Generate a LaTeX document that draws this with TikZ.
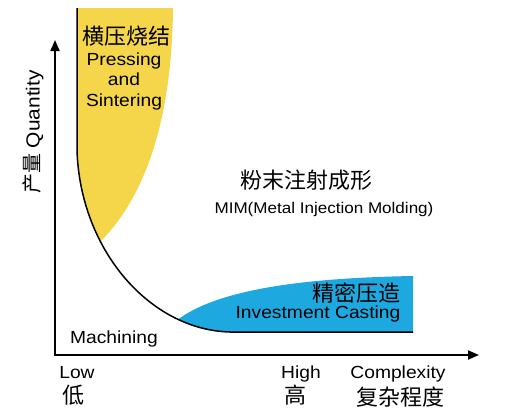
\documentclass[tikz,border=0pt]{standalone}
\usepackage{fontspec}
\setmainfont{Liberation Sans}[FakeStretch=1.1]
\newfontfamily\cjk{Noto Sans CJK SC}
\usepackage{tikz}
\usetikzlibrary{
	positioning,
	arrows.meta
}
\definecolor{pressyellow}{RGB}{245,214,74}
\definecolor{castblue}{RGB}{30,168,224}

\begin{document}
\begin{tikzpicture}[x=1pt,y=-1pt,
		lbl/.style={font=\fontsize{17.5}{20}\selectfont,inner sep=0pt,text height=12.5pt,text depth=3.5pt},
		zh/.style={font=\cjk\fontsize{22}{24}\selectfont,inner sep=0pt},
		axis/.style={line width=2pt,{Triangle[length=11pt,width=9pt]}-{Triangle[length=11pt,width=9pt]}},
		curve/.style={line width=1.5pt},
		node distance=20.5pt]
		\useasboundingbox (0,0) rectangle (514,418);

		\coordinate (o)     at (55,355);
		\coordinate (ytip)  at (55,40);
		\coordinate (xtip)  at (479,355);
		\coordinate (ctop)  at (77,8);
		\coordinate (cbend) at (77,150);
		\coordinate (cflat) at (230,332);
		\coordinate (cend)  at (413,332);

		% regions, kept right of the curve
		\begin{scope}
			\clip (ctop) -- (cbend) .. controls (80,250) and (150,330) .. (cflat) -- (514,332) -- (514,0) -- (77,0) -- cycle;
			\fill[pressyellow] (60,8) -- (173,8) .. controls (172,110) and (150,190) .. (102,240) -- (72,271) -- (60,271) -- cycle;
			\fill[castblue] (cend) -- (413,276) .. controls (300,278) and (220,290) .. (180,318) -- (150,339) -- (413,339) -- cycle;
		\end{scope}

		\draw[curve] (ctop) -- (cbend) .. controls (80,250) and (150,330) .. (cflat) -- (cend);
		\draw[axis] (ytip) -- (o) -- (xtip);

		\draw
			node[zh]                      (press-zh) at (126,36)  {横压烧结}
			node[lbl]                     (press)    at (124,60.5) {Pressing}
			node[lbl,below of=press]      (and)      {and}
			node[lbl,below of=and]        (sinter)   {Sintering}

			node[zh]                      (mim-zh)   at (306,180) {粉末注射成形}
			node[lbl,font=\fontsize{15.5}{18}\selectfont,anchor=base] (mim) at (324,213) {MIM(Metal Injection Molding)}

			node[zh]                      (cast-zh)  at (356,293) {精密压造}
			node[lbl]                     (cast)     at (318,313.5) {Investment Casting}

			node[lbl]                     (mach)     at (114,338.5) {Machining}

			node[lbl]                     (low)      at (77,373.5)  {Low}
			node[zh]                      (low-zh)   at (73,395)    {低}
			node[lbl]                     (high)     at (301,373.5) {High}
			node[zh]                      (high-zh)  at (295,395)   {高}
			node[lbl]                     (cplx)     at (398,373.5) {Complexity}
			node[zh]                      (cplx-zh)  at (400,397)   {复杂程度}

			node[lbl,rotate=90,font=\fontsize{19}{22}\selectfont] (qty) at (35,132) {{\cjk\fontsize{20}{22}\selectfont 产量} Quantity}
		;
	\end{tikzpicture}
\end{document}
